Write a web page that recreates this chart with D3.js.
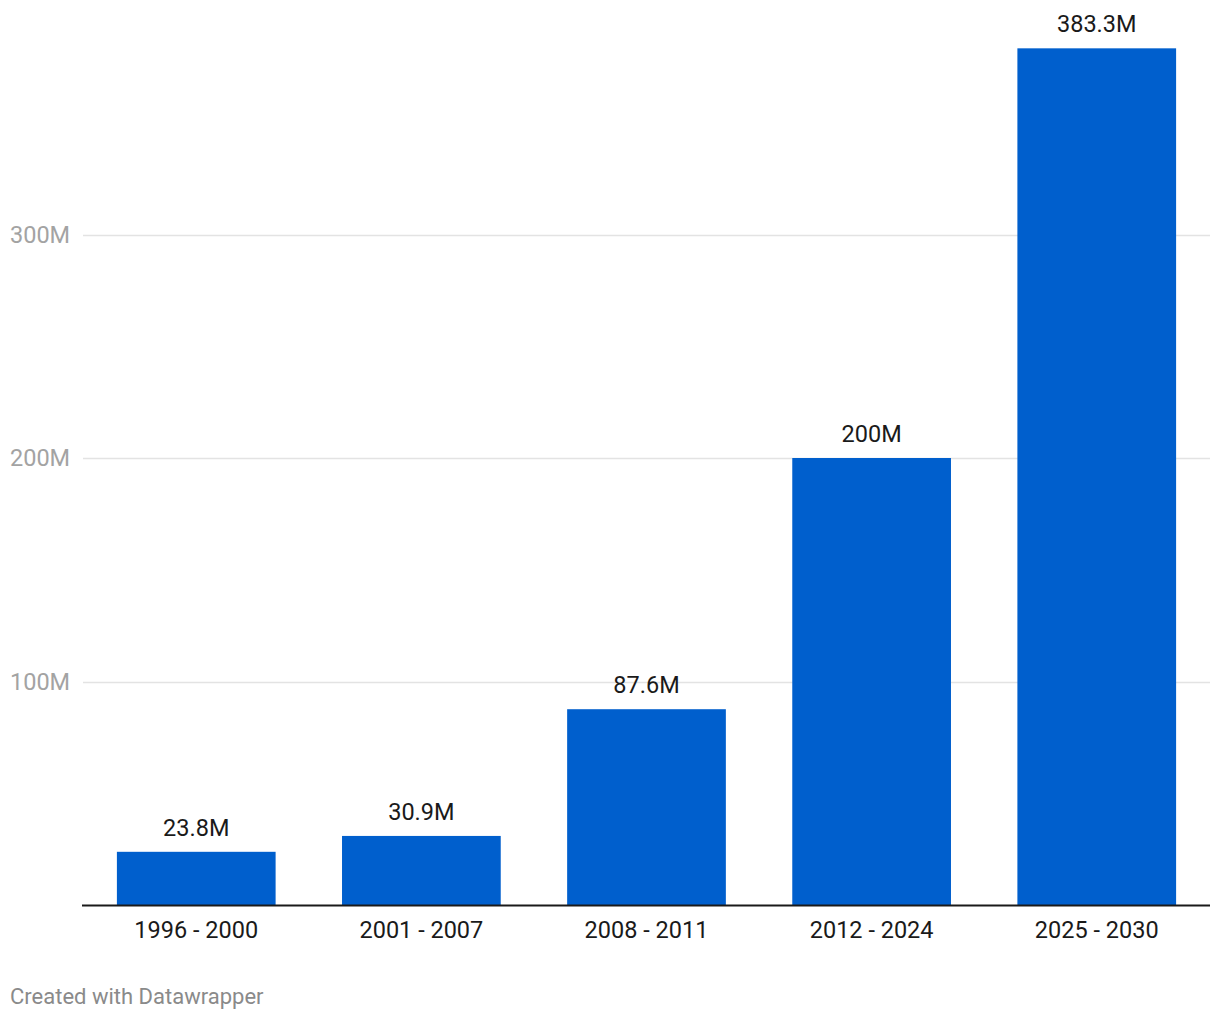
<!DOCTYPE html>
<html>
<head>
<meta charset="utf-8">
<script src="https://cdn.jsdelivr.net/npm/d3@7"></script>
<style>
  html, body { margin: 0; padding: 0; background: #fff; }
  svg { display: block; font-family: Roboto, "Noto Sans", sans-serif; }
</style>
</head>
<body>
<svg id="chart" width="1220" height="1020"></svg>
<script>
const categories = ["1996 - 2000", "2001 - 2007", "2008 - 2011", "2012 - 2024", "2025 - 2030"];
const values = [23.8, 30.9, 87.6, 200, 383.3];
const valueLabels = ["23.8M", "30.9M", "87.6M", "200M", "383.3M"];
const yTicks = [100, 200, 300];
const yTickLabels = ["100M", "200M", "300M"];
const footer = "Created with Datawrapper";

const svg = d3.select("#chart");
const left = 82, right = 1211, baseY = 905;

const x = d3.scaleBand().domain(categories).range([left, right]).paddingInner(0.295).paddingOuter(0.155);
const y = d3.scaleLinear().domain([0, 400]).range([baseY, baseY - 894]);

// gridlines
svg.append("g").selectAll("line").data(yTicks).join("line")
  .attr("x1", left + 1).attr("x2", 1210)
  .attr("y1", d => Math.round(y(d)) + 0.5).attr("y2", d => Math.round(y(d)) + 0.5)
  .attr("stroke", "#e3e3e3").attr("stroke-width", 1.5);

// y tick labels
svg.append("g").selectAll("text").data(yTicks).join("text")
  .attr("x", 10).attr("y", d => y(d))
  .attr("dy", "0.35em")
  .attr("fill", "#a3a3a3").attr("font-size", 23.5)
  .text((d, i) => yTickLabels[i]);

// bars
svg.append("g").selectAll("rect").data(values).join("rect")
  .attr("x", (d, i) => x(categories[i]))
  .attr("width", x.bandwidth())
  .attr("y", d => y(d))
  .attr("height", d => baseY - y(d))
  .attr("fill", "#005fcd");

// value labels
svg.append("g").selectAll("text").data(values).join("text")
  .attr("x", (d, i) => x(categories[i]) + x.bandwidth() / 2)
  .attr("y", d => y(d) - 16)
  .attr("text-anchor", "middle")
  .attr("fill", "#1a1a1a").attr("font-size", 23.5)
  .text((d, i) => valueLabels[i]);

// baseline axis
svg.append("line")
  .attr("x1", left).attr("x2", 1210)
  .attr("y1", baseY + 0.5).attr("y2", baseY + 0.5)
  .attr("stroke", "#1a1a1a").attr("stroke-width", 2);

// x axis labels
const xAxis = d3.axisBottom(x).tickSize(0).tickPadding(0);
const gx = svg.append("g").attr("transform", `translate(0,${baseY})`).call(xAxis);
gx.select(".domain").remove();
gx.selectAll("text")
  .attr("y", 33).attr("dy", 0)
  .attr("font-size", 23.5)
  .attr("font-family", "Roboto, 'Noto Sans', sans-serif")
  .attr("fill", "#1a1a1a");

// footer
svg.append("text")
  .attr("x", 10).attr("y", 1004)
  .attr("fill", "#8a8a8a").attr("font-size", 22)
  .text(footer);
</script>
</body>
</html>
